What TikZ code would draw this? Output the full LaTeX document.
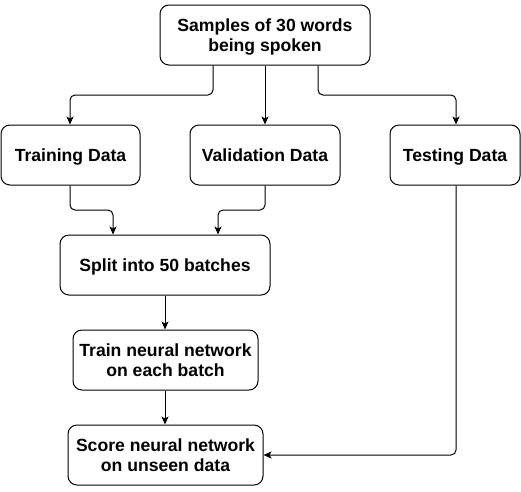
\documentclass[tikz,border=0pt]{standalone}
\usepackage{fontspec}
\setmainfont{Liberation Sans}
\usetikzlibrary{arrows.meta}
\begin{document}
\begin{tikzpicture}[x=1pt,y=-1pt,
  box/.style={draw=black,line width=1pt,rounded corners=9pt,align=center,
    font=\bfseries\fontsize{17.6}{20.5}\selectfont,inner sep=0pt,text depth=0pt},
  conn/.style={draw=black,line width=1pt,rounded corners=5pt,
    -{Stealth[length=8pt,width=7pt,inset=2pt]}}]
\useasboundingbox (0,0) rectangle (521,491);
\node[box,minimum width=210pt,minimum height=60pt] (top) at (265,35) {Samples of 30 words\\being spoken};
\node[box,minimum width=139pt,minimum height=60pt] (train) at (70.5,155) {Training Data};
\node[box,minimum width=150pt,minimum height=60pt] (val) at (265,155) {Validation Data};
\node[box,minimum width=130pt,minimum height=60pt] (test) at (455,155) {Testing Data};
\node[box,minimum width=210pt,minimum height=60pt] (split) at (165,265) {Split into 50 batches};
\node[box,minimum width=185pt,minimum height=60pt] (tnn) at (165.5,360) {Train neural network\\on each batch};
\node[box,minimum width=195pt,minimum height=60pt] (score) at (165.5,455) {Score neural network\\on unseen data};
\draw[conn] (top.south -| 213,0) -- (213,95) -- (70,95) -- (train.north -| 70,0);
\draw[conn] (top.south) -- (val.north);
\draw[conn] (top.south -| 318,0) -- (318,95) -- (456,95) -- (test.north -| 456,0);
\draw[conn] (train.south -| 70,0) -- (70,210) -- (113,210) -- (split.north -| 113,0);
\draw[conn] (val.south) -- (265,210) -- (218,210) -- (split.north -| 218,0);
\draw[conn] (split.south) -- (tnn.north -| split.south);
\draw[conn] (tnn.south -| split.south) -- (score.north -| split.south);
\draw[conn] (test.south -| 456,0) -- (456,455) -- (score.east);
\end{tikzpicture}
\end{document}
